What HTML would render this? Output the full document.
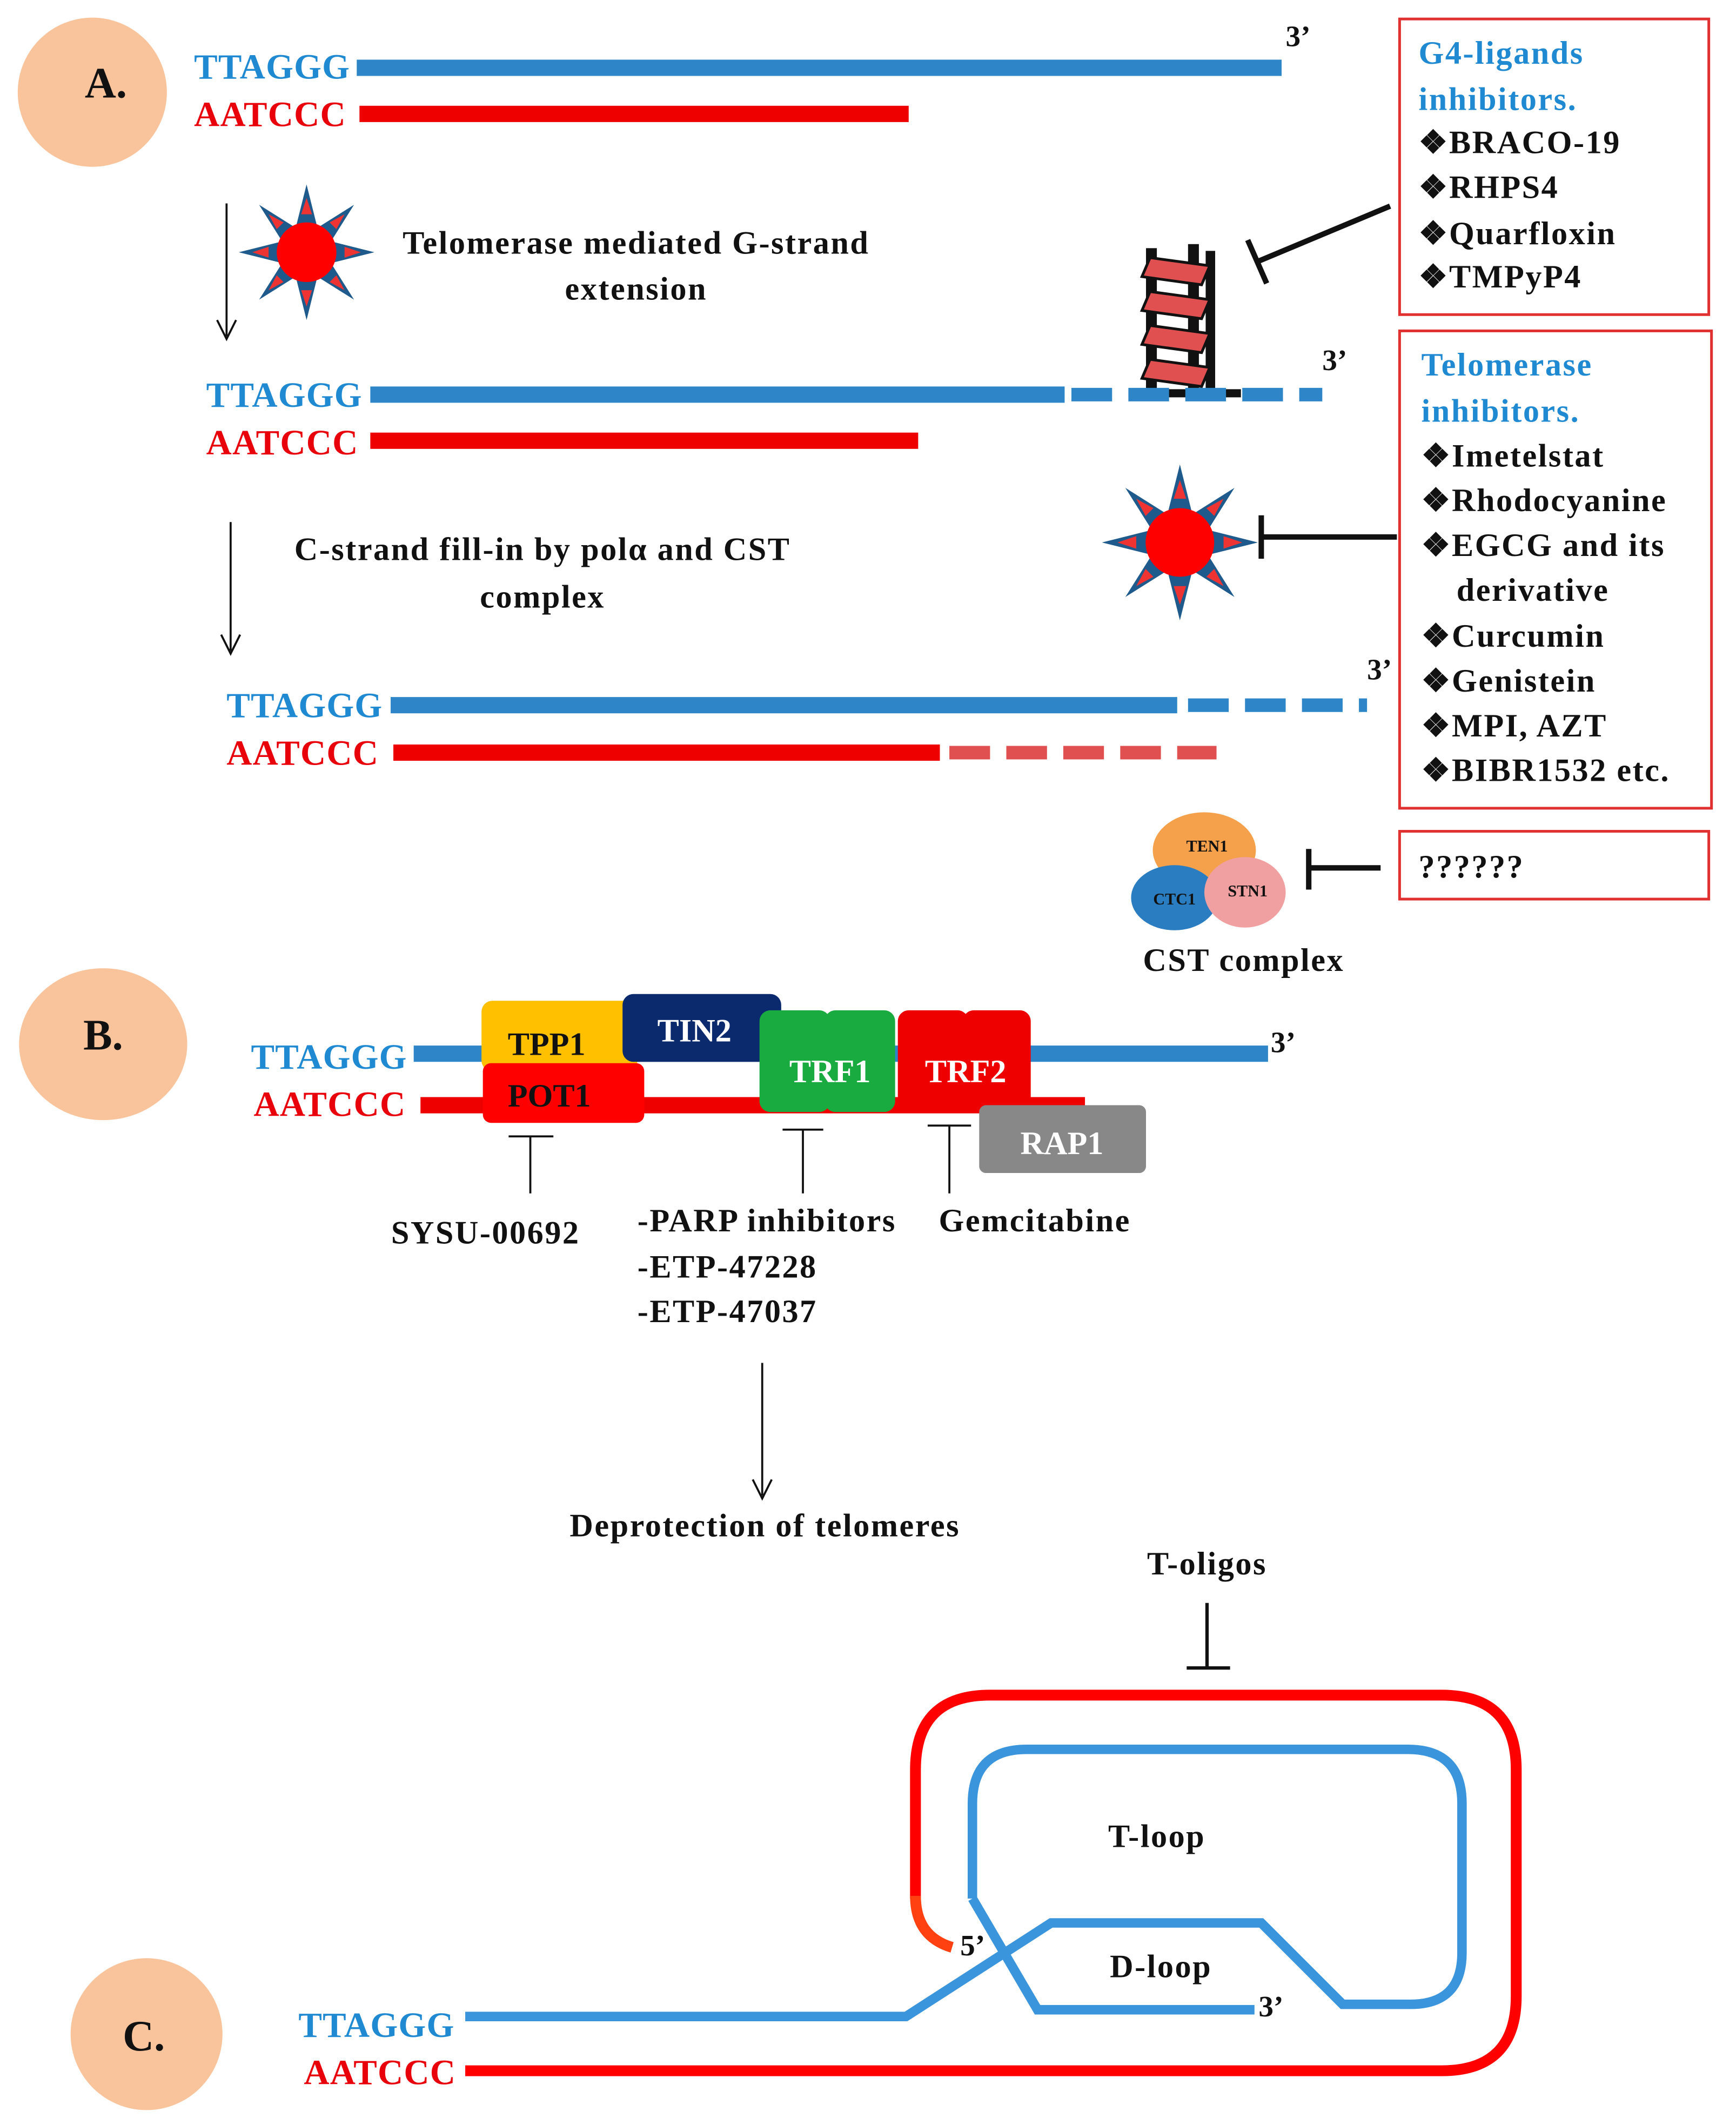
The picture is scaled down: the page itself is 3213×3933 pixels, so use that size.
<!DOCTYPE html>
<html><head><meta charset="utf-8"><style>
html,body{margin:0;padding:0;background:#fff;}
svg{display:block;}
text{font-family:"Liberation Serif",serif;font-weight:bold;}
</style></head><body>
<svg width="3213" height="3933" viewBox="0 0 1280 1567" xmlns="http://www.w3.org/2000/svg">
<defs>
<g id="star">
 <polygon points="0,-50 8,-18 35,-35 18,-8 50,0 18,8 35,35 8,18 0,50 -8,18 -35,35 -18,8 -50,0 -18,-8 -35,-35 -8,-18" fill="#1f5a8c"/>
 <circle r="22" fill="#f00"/>
 <g fill="#e33">
  <polygon points="0,-40 -4,-28 4,-28"/><polygon points="0,40 -4,28 4,28"/>
  <polygon points="-40,0 -28,-4 -28,4"/><polygon points="40,0 28,-4 28,4"/>
  <polygon points="-28,-28 -22,-17 -17,-22"/><polygon points="28,28 22,17 17,22"/>
  <polygon points="28,-28 22,-17 17,-22"/><polygon points="-28,28 -22,17 -17,22"/>
 </g>
</g>
</defs>
<style>.b{fill:#1f8ad2}.r{fill:#e8000b}.k{fill:#111}.f{font-size:26px;letter-spacing:0.5px}.s{font-size:24px;letter-spacing:1px}</style>

<!-- A -->
<circle cx="68" cy="68" r="55" fill="#f9c49c"/>
<text x="78" y="72" class="k" font-size="32" text-anchor="middle">A.</text>
<text x="143" y="58" class="b f">TTAGGG</text>
<rect x="263" y="44" width="682" height="12" fill="#2e86c8"/>
<text x="948" y="34" class="k" font-size="22">3’</text>
<text x="143" y="93" class="r f">AATCCC</text>
<rect x="265" y="78" width="405" height="12" fill="#e00"/>

<line x1="167" y1="150" x2="167" y2="248" stroke="#111" stroke-width="1.5"/>
<polyline points="160,236 167,250 174,236" fill="none" stroke="#111" stroke-width="1.5"/>
<use href="#star" x="226" y="186"/>
<text x="469" y="187" class="k s" text-anchor="middle">Telomerase mediated G-strand</text>
<text x="469" y="221" class="k s" text-anchor="middle">extension</text>

<!-- G4 structure -->
<g>
 <rect x="845" y="183" width="8" height="112" fill="#111"/>
 <rect x="876" y="180" width="8" height="115" fill="#111"/>
 <rect x="889" y="185" width="7" height="110" fill="#111"/>
 <g fill="#e05050" stroke="#111" stroke-width="2">
  <polygon points="848,190 892,196 886,210 842,204"/>
  <polygon points="848,215 892,221 886,235 842,229"/>
  <polygon points="848,240 892,246 886,260 842,254"/>
  <polygon points="848,265 892,271 886,285 842,279"/>
 </g>
 <rect x="835" y="287" width="80" height="6" fill="#111"/>
</g>
<text x="152" y="300" class="b f">TTAGGG</text>
<rect x="273" y="285" width="512" height="12" fill="#2e86c8"/>
<line x1="790" y1="291" x2="975" y2="291" stroke="#2e86c8" stroke-width="10" stroke-dasharray="30,12"/>
<text x="975" y="273" class="k" font-size="22">3’</text>
<text x="152" y="335" class="r f">AATCCC</text>
<rect x="273" y="319" width="404" height="12" fill="#e00"/>

<line x1="170" y1="385" x2="170" y2="480" stroke="#111" stroke-width="1.5"/>
<polyline points="163,468 170,482 177,468" fill="none" stroke="#111" stroke-width="1.5"/>
<text x="400" y="413" class="k s" text-anchor="middle">C-strand fill-in by polα and CST</text>
<text x="400" y="448" class="k s" text-anchor="middle">complex</text>

<text x="167" y="529" class="b f">TTAGGG</text>
<rect x="288" y="514" width="580" height="12" fill="#2e86c8"/>
<line x1="876" y1="520" x2="1008" y2="520" stroke="#2e86c8" stroke-width="10" stroke-dasharray="30,12"/>
<text x="1008" y="501" class="k" font-size="22">3’</text>
<text x="167" y="564" class="r f">AATCCC</text>
<rect x="290" y="549" width="403" height="12" fill="#e00"/>
<line x1="700" y1="555" x2="897" y2="555" stroke="#e05050" stroke-width="10" stroke-dasharray="30,12"/>

<!-- Right boxes -->
<rect x="1032" y="14" width="228" height="218" fill="none" stroke="#e03030" stroke-width="2"/>
<text x="1046" y="47" class="b s">G4-ligands</text>
<text x="1046" y="81" class="b s">inhibitors.</text>
<text x="1046" y="113" class="k s">❖BRACO-19</text>
<text x="1046" y="146" class="k s">❖RHPS4</text>
<text x="1046" y="180" class="k s">❖Quarfloxin</text>
<text x="1046" y="212" class="k s">❖TMPyP4</text>
<line x1="1025" y1="152" x2="927" y2="193" stroke="#111" stroke-width="4"/>
<line x1="920" y1="177" x2="934" y2="209" stroke="#111" stroke-width="4"/>

<rect x="1032" y="244" width="230" height="352" fill="none" stroke="#e03030" stroke-width="2"/>
<text x="1048" y="277" class="b s">Telomerase</text>
<text x="1048" y="311" class="b s">inhibitors.</text>
<text x="1048" y="344" class="k s">❖Imetelstat</text>
<text x="1048" y="377" class="k s">❖Rhodocyanine</text>
<text x="1048" y="410" class="k s">❖EGCG and its</text>
<text x="1074" y="443" class="k s">derivative</text>
<text x="1048" y="477" class="k s">❖Curcumin</text>
<text x="1048" y="510" class="k s">❖Genistein</text>
<text x="1048" y="543" class="k s">❖MPI, AZT</text>
<text x="1048" y="576" class="k s">❖BIBR1532 etc.</text>
<g transform="translate(870,400) scale(1.15)"><use href="#star"/></g>
<line x1="930" y1="396" x2="1030" y2="396" stroke="#111" stroke-width="4"/>
<line x1="930" y1="380" x2="930" y2="412" stroke="#111" stroke-width="4"/>

<rect x="1032" y="613" width="228" height="50" fill="none" stroke="#e03030" stroke-width="2"/>
<text x="1046" y="647" class="k s">??????</text>
<ellipse cx="888" cy="627" rx="38" ry="28" fill="#f5a04a"/>
<ellipse cx="866" cy="662" rx="32" ry="24" fill="#2a7dc0"/>
<ellipse cx="918" cy="658" rx="30" ry="26" fill="#f0a0a0"/>
<text x="890" y="628" class="k" font-size="12" text-anchor="middle">TEN1</text>
<text x="866" y="667" class="k" font-size="12" text-anchor="middle">CTC1</text>
<text x="920" y="661" class="k" font-size="12" text-anchor="middle">STN1</text>
<line x1="965" y1="640" x2="1018" y2="640" stroke="#111" stroke-width="4"/>
<line x1="965" y1="626" x2="965" y2="656" stroke="#111" stroke-width="4"/>
<text x="917" y="716" class="k s" text-anchor="middle">CST complex</text>

<!-- B -->
<ellipse cx="76" cy="770" rx="62" ry="56" fill="#f9c49c"/>
<text x="76" y="774" class="k" font-size="32" text-anchor="middle">B.</text>
<text x="185" y="788" class="b f">TTAGGG</text>
<rect x="305" y="771" width="630" height="12" fill="#2e86c8"/>
<text x="937" y="776" class="k" font-size="22">3’</text>
<text x="187" y="823" class="r f">AATCCC</text>
<rect x="310" y="809" width="490" height="12" fill="#e00"/>
<rect x="355" y="738" width="115" height="52" rx="8" fill="#ffc000"/>
<rect x="459" y="733" width="117" height="50" rx="8" fill="#0b2a6e"/>
<rect x="356" y="784" width="119" height="44" rx="6" fill="#f00"/>
<text x="403" y="778" class="k" font-size="24" text-anchor="middle">TPP1</text>
<text x="512" y="768" fill="#fff" font-size="24" text-anchor="middle">TIN2</text>
<text x="405" y="816" class="k" font-size="24" text-anchor="middle">POT1</text>
<rect x="560" y="745" width="52" height="75" rx="8" fill="#1aab40"/>
<rect x="608" y="745" width="52" height="75" rx="8" fill="#1aab40"/>
<text x="612" y="798" fill="#fff" font-size="24" text-anchor="middle">TRF1</text>
<rect x="662" y="745" width="52" height="75" rx="8" fill="#e00"/>
<rect x="710" y="745" width="50" height="75" rx="8" fill="#e00"/>
<text x="712" y="798" fill="#fff" font-size="24" text-anchor="middle">TRF2</text>
<rect x="722" y="815" width="123" height="50" rx="5" fill="#888"/>
<text x="783" y="851" fill="#fff" font-size="24" text-anchor="middle">RAP1</text>
<g stroke="#111" stroke-width="1.5">
 <line x1="391" y1="838" x2="391" y2="880"/><line x1="375" y1="838" x2="408" y2="838"/>
 <line x1="592" y1="833" x2="592" y2="880"/><line x1="577" y1="833" x2="607" y2="833"/>
 <line x1="700" y1="830" x2="700" y2="880"/><line x1="684" y1="830" x2="716" y2="830"/>
</g>
<text x="358" y="917" class="k s" text-anchor="middle">SYSU-00692</text>
<text x="470" y="908" class="k s">-PARP inhibitors</text>
<text x="470" y="942" class="k s">-ETP-47228</text>
<text x="470" y="975" class="k s">-ETP-47037</text>
<text x="763" y="908" class="k s" text-anchor="middle">Gemcitabine</text>
<line x1="562" y1="1005" x2="562" y2="1103" stroke="#111" stroke-width="1.5"/>
<polyline points="555,1091 562,1105 569,1091" fill="none" stroke="#111" stroke-width="1.5"/>
<text x="564" y="1133" class="k s" text-anchor="middle">Deprotection of telomeres</text>

<!-- C -->
<text x="890" y="1161" class="k s" text-anchor="middle">T-oligos</text>
<line x1="890" y1="1182" x2="890" y2="1230" stroke="#111" stroke-width="2.5"/>
<line x1="875" y1="1230" x2="907" y2="1230" stroke="#111" stroke-width="2.5"/>
<path d="M343,1527 L1063,1527 Q1118,1527 1118,1472 L1118,1305 Q1118,1250 1063,1250 L730,1250 Q675,1250 675,1305 L675,1400" fill="none" stroke="#f00" stroke-width="8"/>
<path d="M675,1398 Q675,1428 702,1436" fill="none" stroke="#ff4010" stroke-width="8"/>
<path d="M717,1400 L717,1330 Q717,1290 757,1290 L1038,1290 Q1078,1290 1078,1330 L1078,1440 Q1078,1478 1040,1478 L990,1478 L930,1418 L775,1418 L668,1487 L343,1487" fill="none" stroke="#3a95dc" stroke-width="7"/>
<path d="M717,1400 L765,1482 L925,1482" fill="none" stroke="#3a95dc" stroke-width="7"/>
<text x="853" y="1362" class="k s" text-anchor="middle">T-loop</text>
<text x="856" y="1458" class="k s" text-anchor="middle">D-loop</text>
<text x="708" y="1442" class="k" font-size="22">5’</text>
<text x="928" y="1487" class="k" font-size="22">3’</text>
<circle cx="108" cy="1500" r="56" fill="#f9c49c"/>
<text x="106" y="1512" class="k" font-size="32" text-anchor="middle">C.</text>
<text x="220" y="1502" class="b f">TTAGGG</text>
<text x="224" y="1537" class="r f">AATCCC</text>
</svg>
</body></html>
